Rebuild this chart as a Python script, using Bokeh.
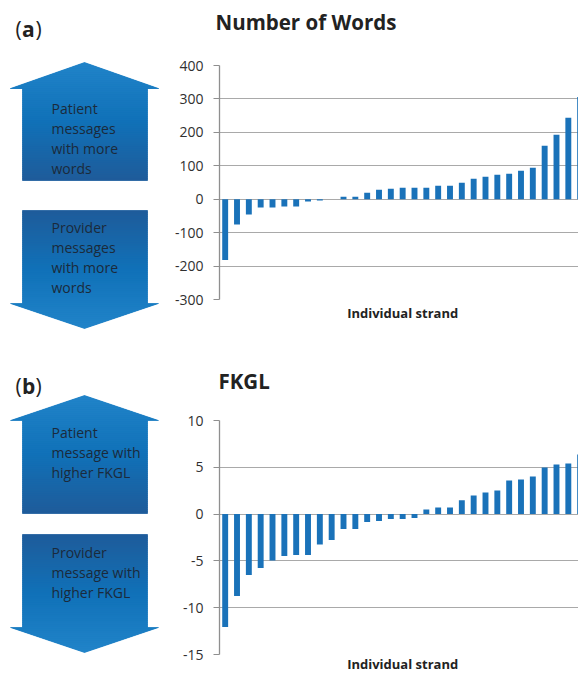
from bokeh.plotting import figure
from bokeh.layouts import row, column
from bokeh.models import Range1d, FixedTicker
from bokeh.core.properties import value
from bokeh.embed import file_html
from bokeh.resources import INLINE

# ---------------- data ----------------
strand_index = list(range(1, 32))
words_diff = [-182, -76, -46, -25, -25, -22, -22, -7, -4, 0, 7, 7, 19, 28, 31, 34, 34, 34,
              40, 40, 49, 61, 67, 73, 76, 85, 94, 160, 193, 244, 306]
fkgl_diff = [-12.06, -8.75, -6.5, -5.77, -4.95, -4.48, -4.38, -4.38, -3.24, -2.78, -1.6, -1.6,
             -0.85, -0.75, -0.53, -0.53, -0.43, 0.5, 0.71, 0.71, 1.49, 1.99, 2.31, 2.53,
             3.59, 3.7, 4.02, 4.98, 5.3, 5.41, 6.37]
words_ticks = [-300, -200, -100, 0, 100, 200, 300, 400]
fkgl_ticks = [-15, -10, -5, 0, 5, 10]

title_a = "Number of Words"
title_b = "FKGL"
x_title = "Individual strand"
up_a = ["Patient", "messages", "with more", "words"]
down_a = ["Provider", "messages", "with more", "words"]
up_b = ["Patient", "message with", "higher FKGL"]
down_b = ["Provider", "message with", "higher FKGL"]

# ---------------- style ----------------
FONT = "Open Sans"
BAR = "#1a72b9"
GRID = "#a9a9a9"
AXIS = "#8f8f8f"
TXT = "#1b2a3b"
LIGHT = (0x21, 0x84, 0xc9)
MID = (0x10, 0x71, 0xb8)
DARK = (0x1f, 0x5b, 0x99)

LEFT_W = 168
BAR_W = 410
BORDER_L = 51
FRAME_H = 234


def lerp_col(t):
    if t < 0.5:
        a, b, u = LIGHT, MID, t / 0.5
    else:
        a, b, u = MID, DARK, (t - 0.5) / 0.5
    c = [round(a[i] + (b[i] - a[i]) * u) for i in range(3)]
    return "#%02x%02x%02x" % tuple(c)


def clip_band(poly, y0, y1):
    def clip(pts, keep, yc):
        out = []
        n = len(pts)
        for i in range(n):
            P = pts[i]
            Q = pts[(i + 1) % n]
            pin = keep(P[1])
            qin = keep(Q[1])
            if pin:
                out.append(P)
            if pin != qin:
                t = (yc - P[1]) / (Q[1] - P[1])
                out.append((P[0] + t * (Q[0] - P[0]), yc))
        return out
    pts = clip(poly, lambda y: y >= y0, y0)
    if pts:
        pts = clip(pts, lambda y: y <= y1, y1)
    return pts


def draw_arrow(p, poly, ytop, ybot, light_top):
    p.patch([q[0] for q in poly], [q[1] for q in poly], fill_color=lerp_col(0.5), line_color=None)
    xs, ys, cols = [], [], []
    step = 2.0
    y = ytop
    while y < ybot:
        y2 = min(y + step, ybot)
        pts = clip_band(poly, y, y2)
        if len(pts) >= 3:
            t = ((y + y2) / 2 - ytop) / (ybot - ytop)
            if not light_top:
                t = 1 - t
            xs.append([q[0] for q in pts])
            ys.append([q[1] for q in pts])
            cols.append(lerp_col(t))
        y = y2
    p.patches(xs, ys, fill_color=cols, line_color=cols, line_width=0.6)


def up_poly(tip, base, bottom):
    return [(84, tip), (158, base), (147, base), (147, bottom), (22, bottom), (22, base), (10, base)]


def down_poly(top, base, tip):
    return [(22, top), (147, top), (147, base), (158, base), (84, tip), (10, base), (22, base)]


def left_fig(height, letter, letter_y, up_geom, down_geom, up_lines, up_y0, down_lines, down_y0):
    p = figure(width=LEFT_W, height=height, x_range=Range1d(0, LEFT_W), y_range=Range1d(height, 0),
               x_axis_type=None, y_axis_type=None, output_backend="svg", toolbar_location=None,
               min_border=0)
    p.outline_line_color = None
    p.grid.visible = False
    p.text(x=[15], y=[letter_y], text=["("], text_font=value(FONT), text_font_size="21px",
           text_baseline="middle", text_align="left", text_color="#222222")
    p.text(x=[21.5], y=[letter_y], text=[letter], text_font=value(FONT), text_font_size="21px",
           text_font_style="bold", text_baseline="middle", text_align="left", text_color="#222222")
    p.text(x=[35], y=[letter_y], text=[")"], text_font=value(FONT), text_font_size="21px",
           text_baseline="middle", text_align="left", text_color="#222222")
    tip, base, bottom = up_geom
    draw_arrow(p, up_poly(tip, base, bottom), tip, bottom, True)
    top, base2, tip2 = down_geom
    draw_arrow(p, down_poly(top, base2, tip2), top, tip2, False)
    p.text(x=[51] * len(up_lines), y=[up_y0 + 20 * i for i in range(len(up_lines))], text=up_lines,
           text_font=value(FONT), text_font_size="14px", text_baseline="middle", text_color=TXT)
    p.text(x=[51] * len(down_lines), y=[down_y0 + 20 * i for i in range(len(down_lines))],
           text=down_lines, text_font=value(FONT), text_font_size="14px", text_baseline="middle",
           text_color=TXT)
    return p


def title_fig(height, text, x, y):
    # frame spans pixel columns BORDER_L..BAR_W of this figure (aligned with the bar frame)
    p = figure(width=BAR_W, height=height, x_range=Range1d(BORDER_L, BAR_W),
               y_range=Range1d(height, 0), x_axis_type=None, y_axis_type=None,
               output_backend="svg", toolbar_location=None, min_border=0,
               min_border_left=BORDER_L)
    p.outline_line_color = None
    p.grid.visible = False
    p.text(x=[x], y=[y], text=[text], text_font=value(FONT), text_font_size="20.5px",
           text_font_style="bold", text_baseline="middle", text_color="#222222", level="overlay")
    return p


def bar_fig(values, ticks, height, min_top, min_bottom, label_gap):
    p = figure(width=BAR_W, height=height, x_range=Range1d(0.52, 30.86),
               y_range=Range1d(ticks[0], ticks[-1]), output_backend="svg", toolbar_location=None,
               x_axis_location=None,
               min_border_left=BORDER_L, min_border_right=0, min_border_top=min_top,
               min_border_bottom=min_bottom)
    p.vbar(x=strand_index, top=values, bottom=0, width=0.5, fill_color=BAR, line_color=None)
    p.outline_line_color = None
    p.xgrid.grid_line_color = None
    p.ygrid.grid_line_color = GRID
    p.ygrid.grid_line_width = 1.2
    p.ygrid.ticker = FixedTicker(ticks=ticks)
    p.yaxis.ticker = FixedTicker(ticks=ticks)
    p.yaxis.major_label_overrides = {t: str(t) for t in ticks}
    p.yaxis.axis_line_color = AXIS
    p.yaxis.axis_line_width = 1.3
    p.yaxis.major_tick_line_color = AXIS
    p.yaxis.major_tick_line_width = 1.2
    p.yaxis.major_tick_out = 6
    p.yaxis.major_tick_in = 0
    p.yaxis.minor_tick_line_color = None
    p.yaxis.major_label_standoff = 10
    p.yaxis.major_label_text_font = FONT
    p.yaxis.major_label_text_font_size = "14px"
    p.yaxis.major_label_text_color = "#303030"
    # horizontal axis title, centred on the middle strand, just below the frame
    per_px = (ticks[-1] - ticks[0]) / FRAME_H
    p.text(x=[strand_index[len(strand_index) // 2]], y=[ticks[0] - label_gap * per_px],
           text=[x_title], text_font=value(FONT), text_font_size="13px",
           text_font_style="bold", text_align="center", text_baseline="middle",
           text_color="#222222", level="overlay")
    return p


# panel (a)
la = left_fig(360, "a", 28, (62, 88, 180), (210, 303, 328), up_a, 108, down_a, 227)
ta = title_fig(48, title_a, 47, 21)
ba = bar_fig(words_diff, words_ticks, 312, 17, 61, 13.7)

# panel (b)
lb = left_fig(313, "b", 25, (35, 60, 153), (174, 267, 292), up_b, 72, down_b, 192)
tb = title_fig(47, title_b, 50, 20)
bb = bar_fig(fkgl_diff, fkgl_ticks, 266, 13, 19, 9.5)

layout = column(row(la, column(ta, ba, spacing=0), spacing=0),
                row(lb, column(tb, bb, spacing=0), spacing=0), spacing=0)

open("out.html", "w").write(file_html(layout, INLINE))
